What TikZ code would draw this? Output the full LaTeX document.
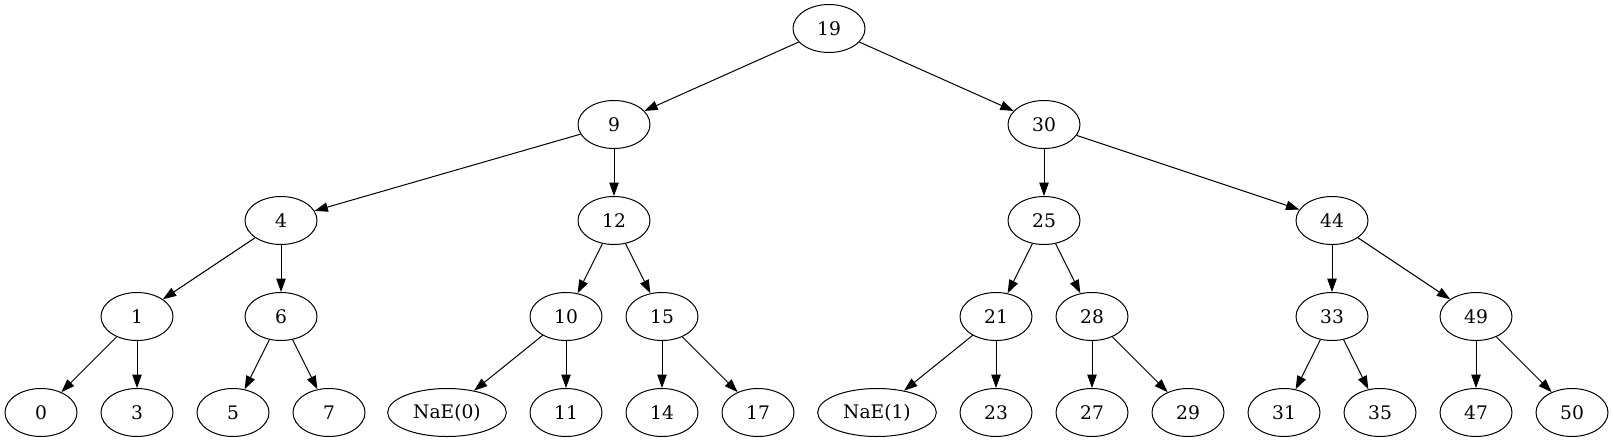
\documentclass[tikz,border=0pt]{standalone}
\usepackage{fontspec}
\setmainfont{DejaVu Serif}
\usetikzlibrary{shapes.geometric,arrows.meta}

\begin{document}
\begin{tikzpicture}[x=0.75pt,y=-0.75pt,
  key/.style={draw,ellipse,line width=0.75pt,minimum width=54pt,minimum height=36pt,inner sep=1pt,font=\fontsize{14}{16}\selectfont},
  nae/.style={key,minimum width=89pt},
  link/.style={-{Triangle[length=10pt,width=7pt]},line width=0.75pt}]
\useasboundingbox (0,0) rectangle (1613,443);
% root and inner keys
\node[key] (n19) at (829,28.5) {19};
\node[key] (n9) at (614,124.5) {9};
\node[key] (n30) at (1044,124.5) {30};
\node[key] (n4) at (281,220.5) {4};
\node[key] (n12) at (614,220.5) {12};
\node[key] (n25) at (1044,220.5) {25};
\node[key] (n44) at (1332,220.5) {44};
\node[key] (n1) at (137,316.5) {1};
\node[key] (n6) at (281,316.5) {6};
\node[key] (n10) at (566,316.5) {10};
\node[key] (n15) at (662,316.5) {15};
\node[key] (n21) at (996,316.5) {21};
\node[key] (n28) at (1092,316.5) {28};
\node[key] (n33) at (1332,316.5) {33};
\node[key] (n49) at (1476,316.5) {49};
% leaves
\node[key] (n0) at (41,412.5) {0};
\node[key] (n3) at (137,412.5) {3};
\node[key] (n5) at (233,412.5) {5};
\node[key] (n7) at (329,412.5) {7};
\node[nae] (ne0) at (447,412.5) {NaE(0)};
\node[key] (n11) at (566,412.5) {11};
\node[key] (n14) at (662,412.5) {14};
\node[key] (n17) at (758,412.5) {17};
\node[nae] (ne1) at (877,412.5) {NaE(1)};
\node[key] (n23) at (996,412.5) {23};
\node[key] (n27) at (1092,412.5) {27};
\node[key] (n29) at (1188,412.5) {29};
\node[key] (n31) at (1284,412.5) {31};
\node[key] (n35) at (1380,412.5) {35};
\node[key] (n47) at (1476,412.5) {47};
\node[key] (n50) at (1572,412.5) {50};
% links
\draw[link] (n19) -- (n9);
\draw[link] (n19) -- (n30);
\draw[link] (n9) -- (n4);
\draw[link] (n9) -- (n12);
\draw[link] (n30) -- (n25);
\draw[link] (n30) -- (n44);
\draw[link] (n4) -- (n1);
\draw[link] (n4) -- (n6);
\draw[link] (n12) -- (n10);
\draw[link] (n12) -- (n15);
\draw[link] (n25) -- (n21);
\draw[link] (n25) -- (n28);
\draw[link] (n44) -- (n33);
\draw[link] (n44) -- (n49);
\draw[link] (n1) -- (n0);
\draw[link] (n1) -- (n3);
\draw[link] (n6) -- (n5);
\draw[link] (n6) -- (n7);
\draw[link] (n10) -- (ne0);
\draw[link] (n10) -- (n11);
\draw[link] (n15) -- (n14);
\draw[link] (n15) -- (n17);
\draw[link] (n21) -- (ne1);
\draw[link] (n21) -- (n23);
\draw[link] (n28) -- (n27);
\draw[link] (n28) -- (n29);
\draw[link] (n33) -- (n31);
\draw[link] (n33) -- (n35);
\draw[link] (n49) -- (n47);
\draw[link] (n49) -- (n50);
\end{tikzpicture}
\end{document}
